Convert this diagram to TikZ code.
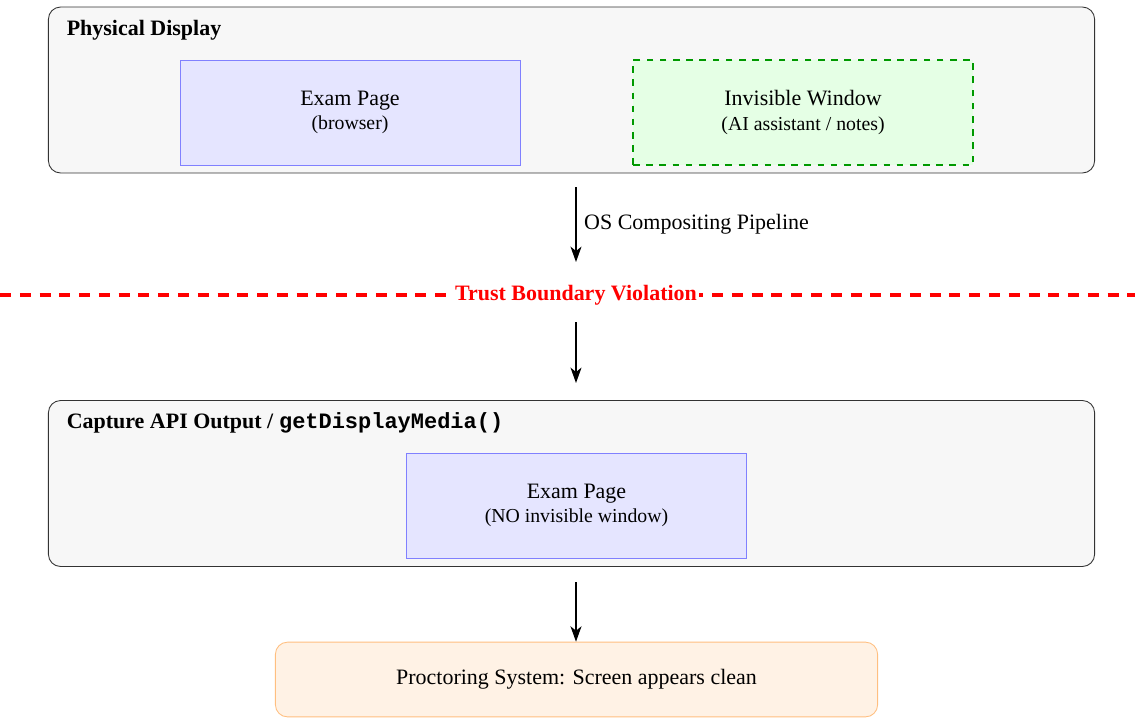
\documentclass[tikz,border=0pt]{standalone}
\usepackage{fontspec}
\setmainfont{Liberation Serif}
\setmonofont{Liberation Mono}
\usepackage{tikz}
\usetikzlibrary{arrows.meta, positioning}

\begin{document}
\begin{tikzpicture}[
  x=0.455pt, y=-0.455pt,
  layer/.style={draw=black!80, fill=black!3, rounded corners=5.5pt,
    minimum width=476pt, minimum height=75.5pt},
  win/.style={draw=blue!50, fill=blue!10, align=center,
    minimum width=154.7pt, minimum height=47.8pt},
  hidden/.style={draw=green!60!black, fill=green!10, thick, dashed, align=center,
    minimum width=154.7pt, minimum height=47.8pt},
  result/.style={draw=orange!50, fill=orange!10, rounded corners=5.5pt,
    minimum width=274pt, minimum height=34pt},
  ttl/.style={font=\bfseries, anchor=west},
  flow/.style={-{Stealth[length=7pt, width=5pt, inset=2pt]}, thick}
]
  \useasboundingbox (0,0) rectangle (1135,717);
  % Top layer: what is on screen
  \node[layer] (disp) at (571.5,90) {};
  \node[ttl] (dispttl) at (59,30) {Physical Display};
  \node[win] (exam) at (350,112.5) {Exam Page\\[-1pt]{\small (browser)}};
  \node[hidden] (inv) at (803,112.5) {Invisible Window\\[-1pt]{\small (AI assistant / notes)}};
  % Boundary
  \coordinate (bl) at (0,295);
  \coordinate (br) at (1135,295);
  \draw[red, line width=1.6pt, dash pattern=on 5pt off 4pt] (bl) -- (br);
  \node[fill=white, text=red, font=\bfseries, inner sep=1pt] (trust) at (576,295) {Trust Boundary Violation};
  % Bottom layer: what is captured
  \node[layer] (cap) at (571.5,483.5) {};
  \node[ttl] (capttl) at (59,423) {Capture API Output / \texttt{getDisplayMedia()}};
  \node[win] (exam2) at (576.5,505.5) {Exam Page\\[-1pt]{\small (NO invisible window)}};
  \node[result] (proc) at (576.5,679.5) {Proctoring System: Screen appears clean};
  % Arrows
  \coordinate (a1) at (576,187);
  \coordinate (a2) at (576,262);
  \coordinate (a3) at (576,322);
  \coordinate (a4) at (576,383);
  \coordinate (a5) at (576,582);
  \draw[flow] (a1) -- (a2) node[midway, right] {OS Compositing Pipeline};
  \draw[flow] (a3) -- (a4);
  \draw[flow] (a5) -- (proc.north -| a5);
\end{tikzpicture}
\end{document}
